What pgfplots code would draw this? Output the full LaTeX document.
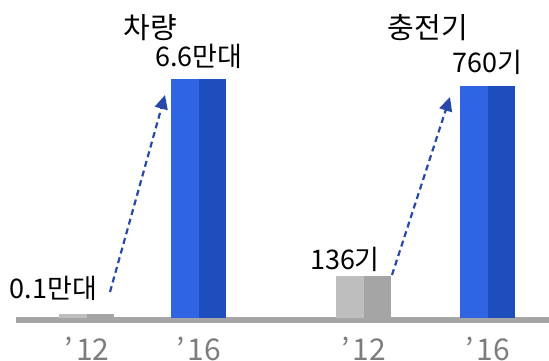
\documentclass[border=0pt]{standalone}
\usepackage{fontspec}
\setmainfont{Noto Sans CJK KR}
\usepackage{pgfplots}
\pgfplotsset{compat=1.18}
\usetikzlibrary{arrows.meta}
\definecolor{lgray}{RGB}{190,190,190}
\definecolor{dgray}{RGB}{165,165,165}
\definecolor{lblue}{RGB}{47,100,226}
\definecolor{dblue}{RGB}{30,78,190}
\definecolor{basegray}{RGB}{166,166,166}
\definecolor{arrowblue}{RGB}{40,72,170}
\definecolor{ticklab}{RGB}{125,125,125}
\newcommand{\lbl}{\fontsize{13.5bp}{15bp}\selectfont}
\newcommand{\ttl}{\fontsize{14.5bp}{16bp}\selectfont}
\newcommand{\tkl}{\fontsize{15bp}{16bp}\selectfont}
\begin{document}
\begin{tikzpicture}
\useasboundingbox (0,0) rectangle (274.5bp,180.5bp);
\pgfplotsset{mybase/.style={
  scale only axis,
  axis x line=bottom, axis y line=none,
  x axis line style={-, line width=2.5bp, draw=basegray},
  xtick={0,1}, xticklabels={’\hspace{1.5bp}12,’\hspace{1.5bp}16},
  major tick length=0pt,
  xticklabel style={font=\tkl, text=ticklab, yshift=-5bp},
  clip=false,
  hb/.style={ybar, bar width=13.75bp, draw=none},
}}
% vehicles
\begin{axis}[mybase, at={(8bp,20.5bp)}, anchor=south west,
  width=129.5bp, height=120.25bp, xmin=-0.634, xmax=1.679, ymin=-0.0693, ymax=6.6]
\addplot[hb, fill=lgray, bar shift=-6.875bp] coordinates {(0,0.1)};
\addplot[hb, fill=dgray, bar shift=6.875bp] coordinates {(0,0.1)};
\addplot[hb, fill=lblue, bar shift=-6.875bp] coordinates {(1,6.6)};
\addplot[hb, fill=dblue, bar shift=6.875bp] coordinates {(1,6.6)};
\node[font=\lbl, anchor=south] at (axis cs:1,6.6) [yshift=2bp] {6.6만대};
\node[font=\lbl] at (axis cs:-0.30,0.8) {0.1만대};
\end{axis}
% chargers
\begin{axis}[mybase, at={(137.5bp,20.5bp)}, anchor=south west,
  width=137bp, height=117.25bp, xmin=-0.714, xmax=1.496, ymin=-8.19, ymax=760]
\addplot[hb, fill=lgray, bar shift=-6.875bp] coordinates {(0,136)};
\addplot[hb, fill=dgray, bar shift=6.875bp] coordinates {(0,136)};
\addplot[hb, fill=lblue, bar shift=-6.875bp] coordinates {(1,760)};
\addplot[hb, fill=dblue, bar shift=6.875bp] coordinates {(1,760)};
\node[font=\lbl, anchor=south] at (axis cs:1,760) [yshift=2bp] {760기};
\node[font=\lbl] at (axis cs:-0.15,192) {136기};
\end{axis}
\node[font=\ttl] at (75bp,166.5bp) {차량};
\node[font=\ttl] at (214bp,166.5bp) {충전기};
\draw[arrowblue, line width=1.1bp, dash pattern=on 3bp off 2bp, -{Triangle[length=7bp,width=6.5bp]}] (55bp,34.5bp) -- (82.5bp,133bp);
\draw[arrowblue, line width=1.1bp, dash pattern=on 3bp off 2bp, -{Triangle[length=7bp,width=6.5bp]}] (196bp,43bp) -- (225bp,132bp);
\end{tikzpicture}
\end{document}
